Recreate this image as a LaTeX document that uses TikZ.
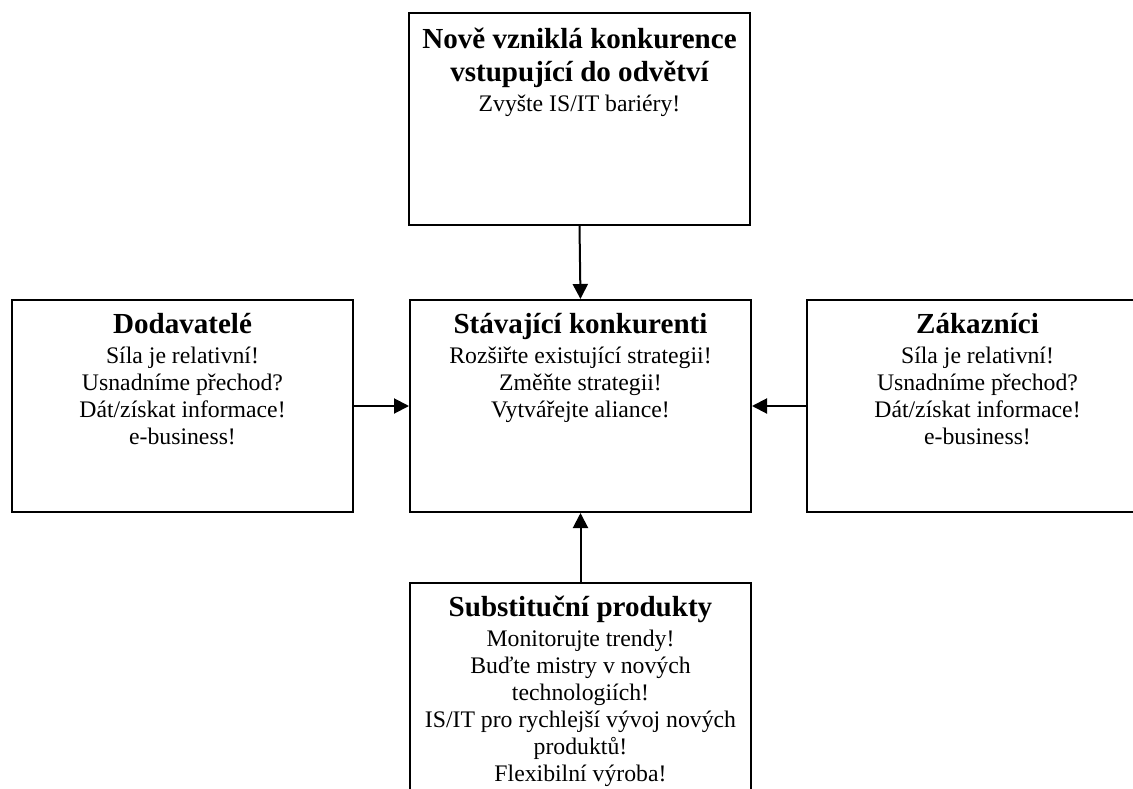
\documentclass[tikz,border=0pt]{standalone}
\usepackage{fontspec}
\setmainfont{Liberation Serif}
\usetikzlibrary{arrows.meta}

% type sizes for the box headings and the advice lines
\newcommand\headfont{\fontsize{21.8pt}{24.75pt}\selectfont\bfseries}
\newcommand\advicefont{\fontsize{17.8pt}{20.25pt}\selectfont\mdseries}

% #1 = first baseline below the box top, #2 = heading, #3 = advice lines
\newcommand\forcetext[3]{%
  \parbox[t][159pt][t]{255.75pt}{\centering
    \headfont\rule{0pt}{#1}#2\par
    \vspace{2.25pt}%
    \advicefont #3\par}}

\begin{document}
\begin{tikzpicture}[x=0.75pt,y=-0.75pt,
  forcebox/.style={draw, line width=1.5pt, inner sep=0pt, anchor=north west,
    minimum width=255.75pt, minimum height=159pt},
  conn/.style={line width=1.5pt, -{Triangle[length=11.25pt,width=11.25pt]}}]

\clip (0,0) rectangle (1133,789);
\fill[white] (0,0) rectangle (1133,789);

% the five forces
\node[forcebox] (entrants) at (408,12)
  {\forcetext{26.25pt}{Nově vzniklá konkurence\\vstupující do odvětví}
    {Zvyšte IS/IT bariéry!}};
\node[forcebox] (suppliers) at (11,299)
  {\forcetext{24.75pt}{Dodavatelé}
    {Síla je relativní!\\Usnadníme přechod?\\Dát/získat informace!\\e-business!}};
\node[forcebox] (rivals) at (409,299)
  {\forcetext{24.75pt}{Stávající konkurenti}
    {Rozšiřte existující strategii!\\Změňte strategii!\\Vytvářejte aliance!}};
\node[forcebox] (buyers) at (806,299)
  {\forcetext{24.75pt}{Zákazníci}
    {Síla je relativní!\\Usnadníme přechod?\\Dát/získat informace!\\e-business!}};
\node[forcebox] (substitutes) at (409,582)
  {\forcetext{24.75pt}{Substituční produkty}
    {Monitorujte trendy!\\Buďte mistry v nových\\technologiích!\\IS/IT pro rychlejší vývoj nových\\produktů!\\Flexibilní výroba!}};

% pressure on the existing rivals
\draw[conn] (entrants.south) -- (rivals.north);
\draw[conn] (suppliers.east) -- (rivals.west);
\draw[conn] (buyers.west) -- (rivals.east);
\draw[conn] (substitutes.north) -- (rivals.south);
\end{tikzpicture}
\end{document}
